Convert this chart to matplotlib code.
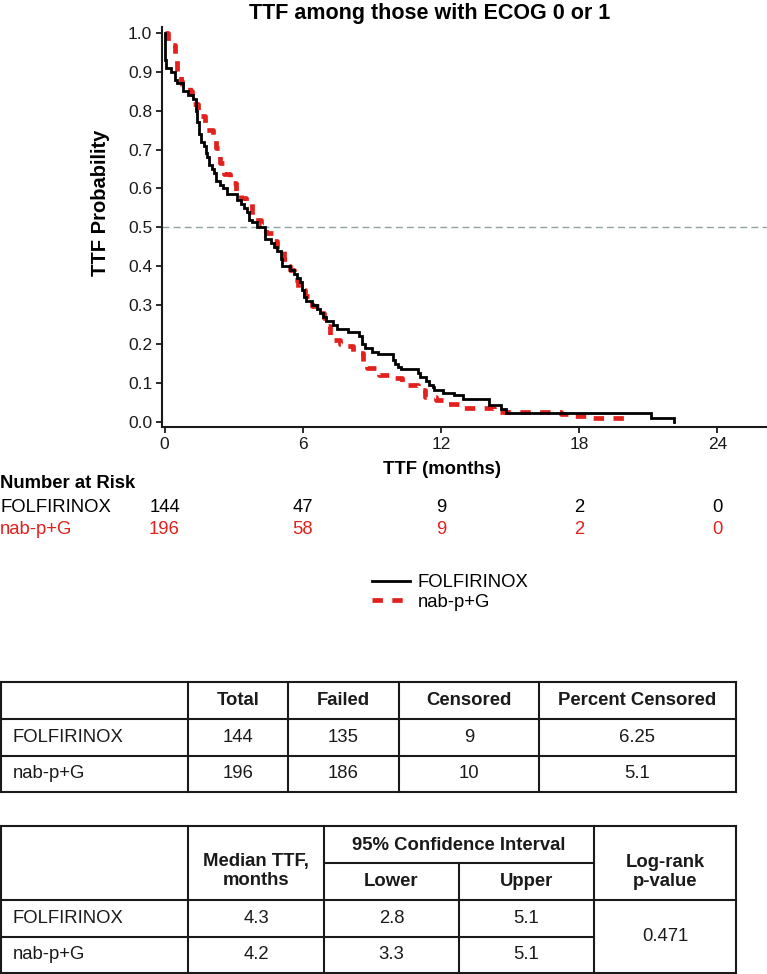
import matplotlib
matplotlib.use("Agg")
import matplotlib.pyplot as plt
from matplotlib.transforms import blended_transform_factory

plt.rcParams["font.family"] = ["Liberation Sans", "DejaVu Sans"]

# --- data ------------------------------------------------------------------
ARMS = ["FOLFIRINOX", "nab-p+G"]

folf_t = [0.0, 0.02, 0.08, 0.3, 0.45, 0.55, 0.8, 1.0, 1.25, 1.35, 1.42, 1.5,
          1.57, 1.7, 1.8, 1.86, 1.95, 2.05, 2.15, 2.25, 2.4, 2.55, 2.7, 3.16,
          3.3, 3.45, 3.6, 3.68, 3.8, 4.0, 4.35, 4.6, 4.75, 4.9, 5.05, 5.12,
          5.45, 5.6, 5.75, 5.9, 5.98, 6.06, 6.15, 6.4, 6.6, 6.75, 6.88, 7.0,
          7.3, 7.5, 7.95, 8.45, 8.55, 8.7, 9.0, 9.25, 9.9, 10.0, 10.15, 10.26,
          10.99, 11.1, 11.35, 11.5, 11.64, 11.7, 12.07, 12.58, 12.94, 14.1,
          14.6, 14.83, 21.1, 22.1]
folf_s = [1.0, 0.93, 0.91, 0.90, 0.88, 0.87, 0.85, 0.84, 0.83, 0.80, 0.77, 0.74,
          0.72, 0.71, 0.69, 0.68, 0.66, 0.65, 0.64, 0.62, 0.61, 0.60, 0.587, 0.57,
          0.56, 0.55, 0.54, 0.52, 0.515, 0.50, 0.47, 0.46, 0.45, 0.44, 0.42, 0.40,
          0.39, 0.38, 0.37, 0.36, 0.34, 0.32, 0.31, 0.30, 0.29, 0.28, 0.27, 0.26,
          0.25, 0.24, 0.23, 0.22, 0.20, 0.19, 0.18, 0.175, 0.16, 0.15, 0.14, 0.135,
          0.126, 0.115, 0.104, 0.095, 0.091, 0.082, 0.075, 0.068, 0.058, 0.044,
          0.033, 0.022, 0.011, 0.0]

nab_t = [0.0, 0.15, 0.45, 0.55, 0.7, 0.77, 1.1, 1.2, 1.45, 1.75, 2.1, 2.25,
         2.4, 2.6, 2.85, 3.1, 3.3, 3.55, 3.8, 4.2, 4.4, 4.7, 4.9, 5.2, 5.3,
         5.45, 5.6, 5.8, 6.1, 6.4, 6.7, 6.9, 7.1, 7.2, 7.6, 7.9, 8.2, 8.6,
         8.8, 9.3, 9.9, 10.3, 11.0, 11.3, 11.8, 12.3, 13.0, 14.3, 17.2, 17.8,
         18.5, 20.1]
nab_s = [1.0, 0.97, 0.936, 0.897, 0.876, 0.863, 0.85, 0.816, 0.786, 0.751, 0.73,
         0.704, 0.666, 0.636, 0.614, 0.589, 0.576, 0.563, 0.52, 0.505, 0.486,
         0.464, 0.443, 0.42, 0.40, 0.391, 0.366, 0.34, 0.323, 0.297, 0.28, 0.267,
         0.246, 0.211, 0.20, 0.194, 0.177, 0.155, 0.139, 0.121, 0.113, 0.095,
         0.083, 0.065, 0.057, 0.047, 0.035, 0.025, 0.02, 0.014, 0.01, 0.01]

risk_times = [0, 6, 12, 18, 24]
risk_folf = [144, 47, 9, 2, 0]
risk_nab = [196, 58, 9, 2, 0]

t1_header = ["", "Total", "Failed", "Censored", "Percent Censored"]
t1_rows = [["FOLFIRINOX", "144", "135", "9", "6.25"],
           ["nab-p+G", "196", "186", "10", "5.1"]]

t2_median = ["4.3", "4.2"]
t2_lower = ["2.8", "3.3"]
t2_upper = ["5.1", "5.1"]
t2_pvalue = "0.471"

RED = "#e3201c"
INK = "#1a1a1a"
FS = 13.3

fig = plt.figure(figsize=(7.67, 9.74), dpi=100)

# --- KM plot ---------------------------------------------------------------
ax = fig.add_axes([162 / 767, 1 - 427 / 974, 605 / 767, 400 / 974])
ax.axhline(0.5, color="#8fa3a3", lw=1.0, ls=(0, (5, 3)), zorder=1)
l1, = ax.step(folf_t, folf_s, where="post", color="black", lw=2.0,
              solid_joinstyle="miter", zorder=3)
l2, = ax.step(nab_t, nab_s, where="post", color=RED, lw=3.4,
              ls=(0, (2.2, 2.0)), zorder=2)

ax.set_xlim(-0.11, 26.15)
ax.set_ylim(-0.013, 1.015)
ax.set_xticks(risk_times)
ax.set_yticks([i / 10 for i in range(11)])
ax.set_yticklabels([f"{i / 10:.1f}" for i in range(11)])
ax.tick_params(labelsize=12.5, length=4, width=1.3, pad=3, colors=INK)
for side in ("top", "right"):
    ax.spines[side].set_visible(False)
for side in ("left", "bottom"):
    ax.spines[side].set_linewidth(1.5)
    ax.spines[side].set_color(INK)

fig.text(430 / 767, 1 - 14 / 974, "TTF among those with ECOG 0 or 1",
         ha="center", va="center", fontsize=15.5, fontweight="bold")
fig.text(442 / 767, 1 - 470 / 974, "TTF (months)", ha="center", va="center",
         fontsize=FS, fontweight="bold")
fig.text(101 / 767, 1 - 203 / 974, "TTF Probability", ha="center", va="center",
         rotation=90, fontsize=14.5, fontweight="bold")

# --- overlay in pixel coordinates for risk table, legend and tables -------
ov = fig.add_axes([0, 0, 1, 1])
ov.set_xlim(0, 767)
ov.set_ylim(974, 0)
ov.axis("off")

risk_tr = blended_transform_factory(ax.transData, ov.transData)
ov.text(0, 483, "Number at Risk", ha="left", va="center", fontsize=FS,
        fontweight="bold")
ov.text(0, 508, ARMS[0], ha="left", va="center", fontsize=FS, color="black")
ov.text(0, 530, ARMS[1], ha="left", va="center", fontsize=FS, color=RED)
for t, a, b in zip(risk_times, risk_folf, risk_nab):
    ov.text(t, 508, str(a), transform=risk_tr, ha="center", va="center",
            fontsize=FS, color="black")
    ov.text(t, 530, str(b), transform=risk_tr, ha="center", va="center",
            fontsize=FS, color=RED)

fig.legend([l1, l2], ARMS, loc="upper left",
           bbox_to_anchor=(372 / 767, 1 - 574 / 974), frameon=False,
           fontsize=FS, handlelength=2.05, handletextpad=0.42,
           labelspacing=0.15, borderpad=0, borderaxespad=0)

LW = 1.5


def hline(y, x0, x1):
    ov.plot([x0, x1], [y, y], color=INK, lw=LW, solid_capstyle="projecting")


def vline(x, y0, y1):
    ov.plot([x, x], [y0, y1], color=INK, lw=LW, solid_capstyle="projecting")


# table 1
c1 = [1, 188, 288, 399, 539, 736]
r1 = [682, 719, 756, 792]
for y in r1:
    hline(y, c1[0], c1[-1])
for x in c1:
    vline(x, r1[0], r1[-1])
for j, h in enumerate(t1_header):
    ov.text((c1[j] + c1[j + 1]) / 2, (r1[0] + r1[1]) / 2, h, ha="center",
            va="center", fontsize=FS, fontweight="bold", color=INK)
for i, row in enumerate(t1_rows):
    yc = (r1[i + 1] + r1[i + 2]) / 2
    ov.text(13, yc, row[0], ha="left", va="center", fontsize=FS, color=INK)
    for j in range(1, 5):
        ov.text((c1[j] + c1[j + 1]) / 2, yc, row[j], ha="center",
                va="center", fontsize=FS, color=INK)

# table 2
c2 = [1, 188, 324, 459, 594, 736]
r2 = [826, 863, 900, 937, 972.5]
hline(r2[0], c2[0], c2[-1])
hline(r2[1], c2[2], c2[4])
hline(r2[2], c2[0], c2[-1])
hline(r2[3], c2[0], c2[4])
hline(r2[4], c2[0], c2[-1])
for x in [c2[0], c2[1], c2[2], c2[4], c2[5]]:
    vline(x, r2[0], r2[-1])
vline(c2[3], r2[1], r2[-1])

ov.text((c2[1] + c2[2]) / 2, 871, "Median TTF,\nmonths", ha="center",
        va="center", fontsize=FS, fontweight="bold", color=INK,
        linespacing=1.1)
ov.text((c2[2] + c2[4]) / 2, 845, "95% Confidence Interval", ha="center",
        va="center", fontsize=FS, fontweight="bold", color=INK)
ov.text((c2[2] + c2[3]) / 2, 882, "Lower", ha="center", va="center",
        fontsize=FS, fontweight="bold", color=INK)
ov.text((c2[3] + c2[4]) / 2, 882, "Upper", ha="center", va="center",
        fontsize=FS, fontweight="bold", color=INK)
ov.text((c2[4] + c2[5]) / 2, 872, "Log-rank\np-value", ha="center",
        va="center", fontsize=FS, fontweight="bold", color=INK,
        linespacing=1.1)
for i, arm in enumerate(ARMS):
    yc = (r2[i + 2] + r2[i + 3]) / 2
    ov.text(13, yc, arm, ha="left", va="center", fontsize=FS, color=INK)
    for j, vals in enumerate([t2_median, t2_lower, t2_upper], start=1):
        ov.text((c2[j] + c2[j + 1]) / 2, yc, vals[i], ha="center",
                va="center", fontsize=FS, color=INK)
ov.text((c2[4] + c2[5]) / 2, (r2[2] + r2[4]) / 2, t2_pvalue, ha="center",
        va="center", fontsize=FS, color=INK)

fig.savefig("out.png", dpi=100)
